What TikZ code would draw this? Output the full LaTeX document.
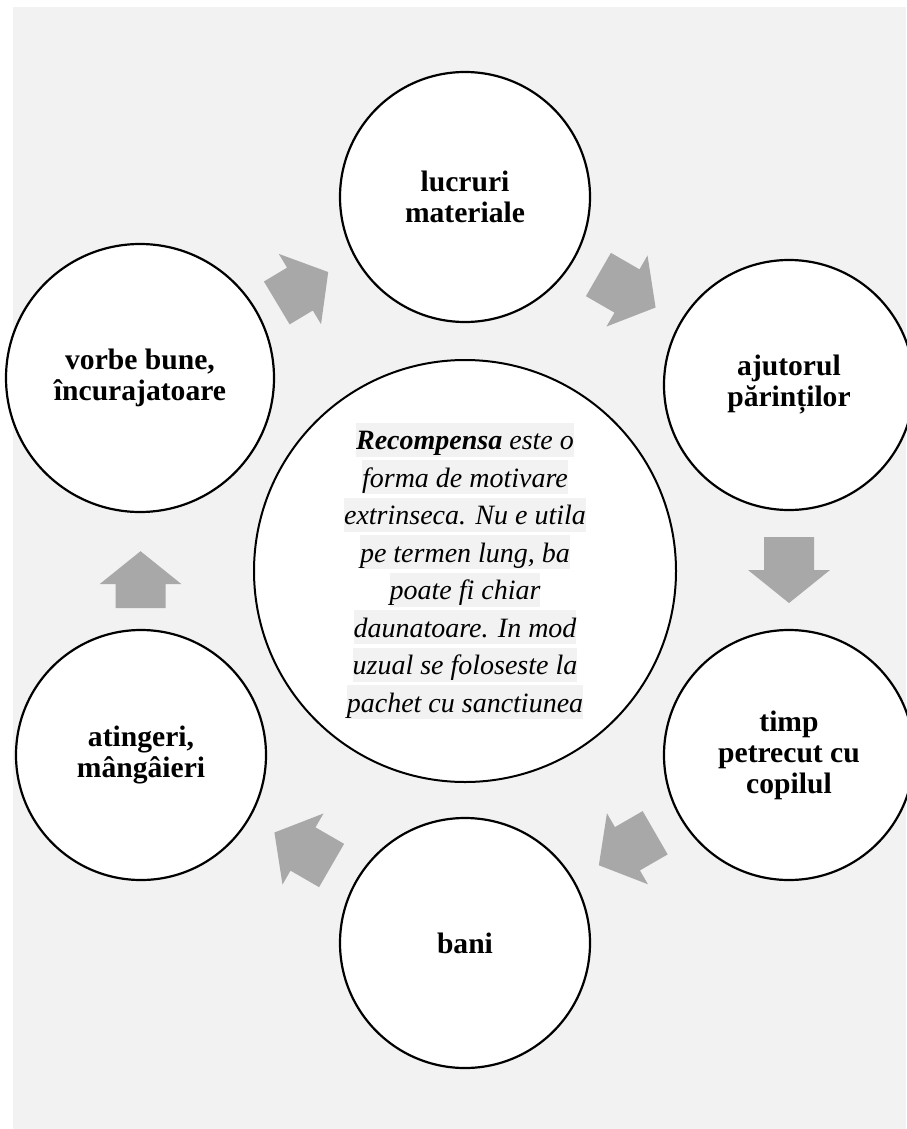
\documentclass[tikz,border=0pt]{standalone}
\usepackage{fontspec}
\setmainfont{Liberation Serif}
\usetikzlibrary{calc}
\definecolor{panel}{RGB}{242,242,242}
\definecolor{arrowgray}{RGB}{168,168,168}
\setlength{\fboxsep}{0pt}
% one highlighted line of the central text
\newcommand{\hlline}[1]{\colorbox{panel}{\rule[-7pt]{0pt}{34pt}#1}}
% block arrow: #1 centre, #2 angle, #3 length
\newcommand{\cyclearrow}[3]{%
  \begin{scope}[shift={#1},rotate=#2]
    \fill[arrowgray] (-#3/2,-25) -- (#3/2-33,-25) -- (#3/2-33,-41) -- (#3/2,0)
      -- (#3/2-33,41) -- (#3/2-33,25) -- (-#3/2,25) -- cycle;
  \end{scope}}
\tikzset{
  item/.style={circle, draw=black, line width=2.2pt, fill=white,
    minimum size=250pt, inner sep=0pt, align=center,
    font=\fontsize{29.6}{31}\selectfont\bfseries},
  hub/.style={circle, draw=black, line width=2pt, fill=white,
    minimum size=422pt, inner sep=0pt, align=center,
    font=\fontsize{28}{37.5}\selectfont\itshape}
}
\begin{document}
\begin{tikzpicture}[x=1pt,y=-1pt]
\useasboundingbox (0,0) rectangle (906,1129);
\fill[panel] (13,7) rectangle (906,1129);

\node[hub] (hub) at (465,571) {%
  \hlline{\textbf{Recompensa} este o}\\
  \hlline{forma de motivare}\\
  \hlline{extrinseca. Nu e utila}\\
  \hlline{pe termen lung, ba}\\
  \hlline{poate fi chiar}\\
  \hlline{daunatoare. In mod}\\
  \hlline{uzual se foloseste la}\\
  \hlline{pachet cu sanctiunea}};

\node[item] (lucruri) at (465,197) {lucruri\\materiale};
\node[item] (ajutorul) at (789,385) {ajutorul\\părinților};
\node[item] (timp) at (789,755) {timp\\petrecut cu\\copilul};
\node[item] (bani) at (465,943) {bani};
\node[item] (atingeri) at (141,755) {atingeri,\\mângâieri};
\node[item, minimum size=268pt] (vorbe) at (140,378) {vorbe bune,\\încurajatoare};

\cyclearrow{($(vorbe)!0.5!(lucruri)$)}{31}{60}
\cyclearrow{($(lucruri)!0.5!(ajutorul)$)}{-30}{66}
\cyclearrow{($(ajutorul)!0.5!(timp)$)}{-90}{66}
\cyclearrow{($(timp)!0.5!(bani)$)}{-150}{65}
\cyclearrow{($(bani)!0.5!(atingeri)$)}{150}{66}
\cyclearrow{($(atingeri)!0.465!(vorbe)$)}{90}{57}
\end{tikzpicture}
\end{document}
